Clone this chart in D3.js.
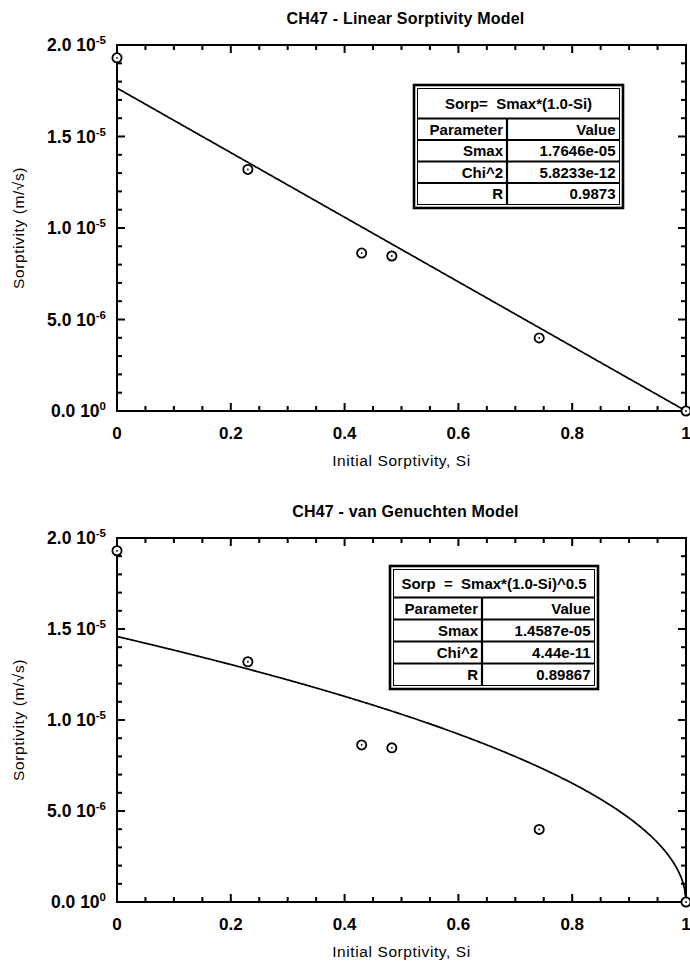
<!DOCTYPE html>
<html>
<head>
<meta charset="utf-8">
<script src="https://cdn.jsdelivr.net/npm/d3@7"></script>
<style>
  body { margin: 0; background: #fff; }
  text { font-family: "Liberation Sans", Arial, Helvetica, sans-serif; white-space: pre; }
</style>
</head>
<body>
<div id="chart"></div>
<script>
// measured data (same for both panels)
const siValues = [0, 0.23, 0.43, 0.483, 0.742, 1];
const sorpValues = [1.93e-5, 1.32e-5, 0.863e-5, 0.847e-5, 0.399e-5, 0];

// axis ticks
const xTicks = [0, 0.2, 0.4, 0.6, 0.8, 1];
const xTickLabels = ["0", "0.2", "0.4", "0.6", "0.8", "1"];
const yTicks = [0, 0.5e-5, 1.0e-5, 1.5e-5, 2.0e-5];
const yTickMantissa = ["0.0", "5.0", "1.0", "1.5", "2.0"];
const yTickExponent = ["0", "-6", "-5", "-5", "-5"];

// fit results
const linearTitle = "Sorp=  Smax*(1.0-Si)";
const linearParams = ["Smax", "Chi^2", "R"];
const linearValues = ["1.7646e-05", "5.8233e-12", "0.9873"];
const linearSmax = 1.7646e-05;

const vgTitle = "Sorp  =  Smax*(1.0-Si)^0.5";
const vgParams = ["Smax", "Chi^2", "R"];
const vgValues = ["1.4587e-05", "4.44e-11", "0.89867"];
const vgSmax = 1.4587e-05;

const W = 690, H = 963;
const svg = d3.select("#chart").append("svg")
    .attr("width", W)
    .attr("height", H);

const points = siValues.map((x, i) => ({x: x, y: sorpValues[i]}));

function drawPanel(cfg) {
    const x = d3.scaleLinear().domain([0, 1]).range([cfg.left, cfg.right]);
    const y = d3.scaleLinear().domain([0, 2e-5]).range([cfg.bottom, cfg.top]);
    const g = svg.append("g");

    // title
    g.append("text")
        .attr("x", (cfg.left + cfg.right) / 2 + 4)
        .attr("y", cfg.top - 21)
        .attr("text-anchor", "middle")
        .style("font-size", "16px")
        .style("font-weight", "bold")
        .style("letter-spacing", "0.2px")
        .text(cfg.title);

    // frame
    g.append("rect")
        .attr("x", cfg.left).attr("y", cfg.top)
        .attr("width", cfg.right - cfg.left).attr("height", cfg.bottom - cfg.top)
        .attr("fill", "none").attr("stroke", "#000").attr("stroke-width", 2);

    // tick marks on all four sides, pointing inward (minor every 0.05 / 1e-6)
    const xMinor = d3.range(0, 21).map(i => i * 0.05);
    const yMinor = d3.range(0, 21).map(i => i * 1e-6);
    const lenX = (d, i) => (i % 4 === 0 ? 8 : 5);
    const lenY = (d, i) => (i % 5 === 0 ? 8 : 5);
    const tickG = g.append("g").attr("fill", "#000");
    xMinor.forEach((d, i) => {
        const px = x(d);
        tickG.append("rect")
            .attr("x", px - 1).attr("y", cfg.bottom - lenX(d, i))
            .attr("width", 2).attr("height", lenX(d, i));
        tickG.append("rect")
            .attr("x", px - 1).attr("y", cfg.top)
            .attr("width", 2).attr("height", lenX(d, i));
    });
    yMinor.forEach((d, i) => {
        const py = y(d);
        tickG.append("rect")
            .attr("x", cfg.left).attr("y", py - 1)
            .attr("width", lenY(d, i)).attr("height", 2);
        tickG.append("rect")
            .attr("x", cfg.right - lenY(d, i)).attr("y", py - 1)
            .attr("width", lenY(d, i)).attr("height", 2);
    });

    // x tick labels
    g.append("g").selectAll("text")
        .data(xTicks)
        .join("text")
        .attr("x", d => x(d))
        .attr("y", cfg.bottom + 28)
        .attr("text-anchor", "middle")
        .style("font-size", "17px")
        .style("font-weight", "bold")
        .text((d, i) => xTickLabels[i]);

    // y tick labels with superscript exponent
    const yl = g.append("g").selectAll("text")
        .data(yTicks)
        .join("text")
        .attr("x", cfg.left - 11)
        .attr("y", d => y(d) + 6)
        .attr("text-anchor", "end")
        .style("font-size", "17.5px")
        .style("font-weight", "bold");
    yl.append("tspan").text((d, i) => yTickMantissa[i] + " 10");
    yl.append("tspan")
        .attr("dy", -7)
        .style("font-size", "11.5px")
        .text((d, i) => yTickExponent[i]);

    // axis labels
    g.append("text")
        .attr("x", (cfg.left + cfg.right) / 2)
        .attr("y", cfg.bottom + 55)
        .attr("text-anchor", "middle")
        .style("font-size", "15.5px")
        .style("letter-spacing", "0.6px")
        .text("Initial Sorptivity, Si");

    g.append("text")
        .attr("transform", `translate(24,${(cfg.top + cfg.bottom) / 2}) rotate(-90)`)
        .attr("text-anchor", "middle")
        .style("font-size", "15.5px")
        .style("letter-spacing", "0.6px")
        .text("Sorptivity (m/\u221As)");

    // fitted model curve
    const xs = d3.range(0, 401).map(i => i / 400);
    const line = d3.line().x(d => x(d)).y(d => y(cfg.model(d)));
    g.append("path")
        .datum(xs)
        .attr("d", line)
        .attr("fill", "none")
        .attr("stroke", "#000")
        .attr("stroke-width", 1.7);

    // data points: open circle with a dot in the middle
    const pt = g.append("g").selectAll("g")
        .data(points)
        .join("g")
        .attr("transform", d => `translate(${x(d.x)},${y(d.y)})`);
    pt.append("circle").attr("r", 4.6)
        .attr("fill", "#fff").attr("stroke", "#000").attr("stroke-width", 1.8);
    pt.append("circle").attr("r", 0.9).attr("fill", "#000");

    // parameter table
    const t = cfg.table;
    const tg = g.append("g").attr("transform", `translate(${t.x},${t.y})`);
    const inset = 3.5;
    const rowH = (t.h - 2 * inset - t.titleH) / 4;
    tg.append("rect").attr("width", t.w).attr("height", t.h)
        .attr("fill", "#fff").attr("stroke", "#000").attr("stroke-width", 2.6);
    tg.append("rect").attr("x", inset).attr("y", inset)
        .attr("width", t.w - 2 * inset).attr("height", t.h - 2 * inset)
        .attr("fill", "none").attr("stroke", "#000").attr("stroke-width", 1);

    tg.append("text")
        .attr("x", t.w / 2).attr("y", inset + t.titleH / 2 + 5.5)
        .attr("text-anchor", "middle")
        .style("font-size", "15px").style("font-weight", "bold")
        .text(t.title);

    const rows = [["Parameter", "Value"]].concat(t.params.map((p, i) => [p, t.values[i]]));
    rows.forEach((r, i) => {
        const ry = inset + t.titleH + i * rowH;
        tg.append("line")
            .attr("x1", inset).attr("x2", t.w - inset)
            .attr("y1", ry).attr("y2", ry)
            .attr("stroke", "#000").attr("stroke-width", 2);
        tg.append("text")
            .attr("x", t.colX - 4).attr("y", ry + rowH / 2 + 5.5)
            .attr("text-anchor", "end")
            .style("font-size", "15px").style("font-weight", "bold")
            .text(r[0]);
        tg.append("text")
            .attr("x", t.w - inset - 4).attr("y", ry + rowH / 2 + 5.5)
            .attr("text-anchor", "end")
            .style("font-size", "15px").style("font-weight", "bold")
            .text(r[1]);
    });
    tg.append("line")
        .attr("x1", t.colX).attr("x2", t.colX)
        .attr("y1", inset + t.titleH).attr("y2", t.h - inset)
        .attr("stroke", "#000").attr("stroke-width", 2.2);
}

drawPanel({
    title: "CH47 - Linear Sorptivity Model",
    left: 117, right: 686, top: 45, bottom: 411,
    model: s => linearSmax * (1 - s),
    table: {x: 414, y: 85, w: 209, h: 123, titleH: 30, colX: 93,
            title: linearTitle, params: linearParams, values: linearValues}
});

drawPanel({
    title: "CH47 - van Genuchten Model",
    left: 117, right: 686, top: 538, bottom: 902,
    model: s => vgSmax * Math.sqrt(Math.max(0, 1 - s)),
    table: {x: 390, y: 566, w: 208, h: 123, titleH: 28, colX: 92,
            title: vgTitle, params: vgParams, values: vgValues}
});
</script>
</body>
</html>
